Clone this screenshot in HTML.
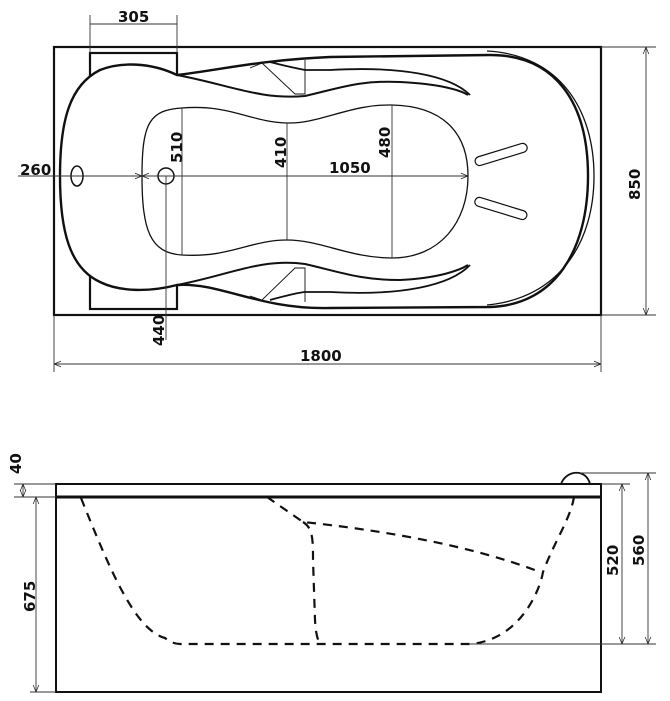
<!DOCTYPE html>
<html><head><meta charset="utf-8"><style>
html,body{margin:0;padding:0;background:#fff;}
svg{display:block;}
text{font-family:"DejaVu Sans","Liberation Sans",sans-serif;font-weight:bold;font-size:15px;fill:#111;}
</style></head><body>
<svg width="670" height="701" viewBox="0 0 670 701" xmlns="http://www.w3.org/2000/svg">
<defs>
<marker id="a" viewBox="0 0 10 10" refX="10" refY="5" markerWidth="8" markerHeight="8" orient="auto-start-reverse"><path d="M0,1 L10,5 L0,9" fill="none" stroke="#222" stroke-width="1"/></marker>
</defs>
<g fill="none" stroke="#111">
<!-- top view outer rect -->
<rect x="54" y="47" width="547" height="268" stroke-width="2.2"/>
<!-- headrest -->
<rect x="90" y="53" width="87" height="256" stroke-width="2.2"/>
<!-- tub outline -->
<path d="M177,75 C150,62 120,62 100,70 C70,85 60,120 60,176 C60,232 70,268 100,282 C120,292 150,292 177,285
 C220,282 260,310 330,308 L490,307 C555,305 588,250 588,176 C588,102 555,55 490,55 L330,57 C260,60 220,70 177,75 Z" stroke-width="2.4" fill="#fff"/>
<path d="M487,51 C560,55 594,110 594,176 C594,242 560,298 487,305" stroke-width="1.3"/>
<!-- armrest inner curves -->
<path d="M177,75 C230,85 260,100 305,96 C340,88 360,80 400,82 C440,84 460,90 468,95" stroke-width="2"/>
<path d="M270,62 C285,66 295,68 305,70 L330,70 C400,66 450,75 470,95" stroke-width="1.8"/>
<path d="M177,285 C230,275 260,258 305,264 C340,272 360,280 400,280 C440,278 460,270 468,265" stroke-width="2"/>
<path d="M270,300 C285,296 295,293 305,292 L330,292 C400,296 450,286 470,265" stroke-width="1.8"/>
<path d="M250,68 L262,63 L295,94 L305,94 L305,60 M250,296 L262,300 L295,268 L305,268 L305,302" stroke-width="0.9"/>
<!-- inner basin -->
<path d="M182,108 C230,104 250,122 287,123 C320,124 350,104 392,105 C440,106 468,130 468,176 C468,222 440,258 392,258 C350,258 320,240 287,240 C250,240 230,258 182,255 C150,253 142,230 142,176 C142,122 150,110 182,108 Z" stroke-width="1.3"/>
<!-- pads -->
<rect x="474" y="150" width="54" height="9" rx="4.5" transform="rotate(-17 501 154)" stroke-width="1.2"/>
<rect x="474" y="204" width="54" height="9" rx="4.5" transform="rotate(17 501 208)" stroke-width="1.2"/>
<!-- drain & overflow -->
<ellipse cx="77" cy="176" rx="6" ry="10" stroke-width="1.5"/>
<circle cx="166" cy="176" r="8" stroke-width="1.5"/>
</g>
<g fill="none" stroke="#333" stroke-width="0.9">
<line x1="54" y1="176" x2="142" y2="176" marker-end="url(#a)"/>
<line x1="142" y1="176" x2="468" y2="176" marker-end="url(#a)" marker-start="url(#a)"/>
<line x1="18" y1="176" x2="54" y2="176"/>
<line x1="182" y1="108" x2="182" y2="255"/>
<line x1="287" y1="123" x2="287" y2="240"/>
<line x1="392" y1="105" x2="392" y2="258"/>
<line x1="166" y1="176" x2="166" y2="340"/>
<!-- 305 -->
<line x1="90" y1="15" x2="90" y2="53"/><line x1="177" y1="15" x2="177" y2="53"/>
<line x1="90" y1="24" x2="177" y2="24"/>
<!-- 850 -->
<line x1="601" y1="47" x2="656" y2="47"/><line x1="601" y1="315" x2="656" y2="315"/>
<line x1="646" y1="47" x2="646" y2="315" marker-start="url(#a)" marker-end="url(#a)"/>
<!-- 1800 -->
<line x1="54" y1="315" x2="54" y2="372"/><line x1="601" y1="315" x2="601" y2="372"/>
<line x1="54" y1="364" x2="601" y2="364" marker-start="url(#a)" marker-end="url(#a)"/>
</g>
<text x="118" y="22">305</text>
<text x="20" y="175">260</text>
<text x="329" y="173">1050</text>
<text x="300" y="361">1800</text>
<text transform="translate(182,163) rotate(-90)">510</text>
<text transform="translate(286,168) rotate(-90)">410</text>
<text transform="translate(390,158) rotate(-90)">480</text>
<text transform="translate(164,346) rotate(-90)">440</text>
<text transform="translate(640,200) rotate(-90)">850</text>

<!-- side view -->
<g fill="none" stroke="#111">
<rect x="56" y="484" width="545" height="208" stroke-width="2"/>
<line x1="56" y1="497" x2="601" y2="497" stroke-width="3"/>
<path d="M561,484 C566,470 586,468 590,484" stroke-width="1.8"/>
<g stroke-width="2.2" stroke-dasharray="9,7">
<path d="M81,498 C110,570 135,630 165,638 C170,642 175,644 180,644 L470,644 C520,640 540,590 543,572 C555,540 570,520 574,497"/>
<path d="M267,497 L303,522 C380,530 470,545 540,572"/>
<path d="M303,522 C313,528 313,540 313,560 L315,620 C316,636 318,640 320,644"/>
</g>
</g>
<g fill="none" stroke="#333" stroke-width="0.9">
<line x1="14" y1="484" x2="56" y2="484"/><line x1="14" y1="497" x2="56" y2="497"/>
<line x1="23" y1="484" x2="23" y2="497" marker-start="url(#a)" marker-end="url(#a)"/>
<line x1="30" y1="692" x2="56" y2="692"/>
<line x1="36" y1="497" x2="36" y2="692" marker-start="url(#a)" marker-end="url(#a)"/>
<line x1="601" y1="484" x2="630" y2="484"/><line x1="580" y1="473" x2="656" y2="473"/>
<line x1="470" y1="644" x2="656" y2="644"/>
<line x1="622" y1="484" x2="622" y2="644" marker-start="url(#a)" marker-end="url(#a)"/>
<line x1="648" y1="473" x2="648" y2="644" marker-start="url(#a)" marker-end="url(#a)"/>
</g>
<text transform="translate(21,474) rotate(-90)">40</text>
<text transform="translate(35,612) rotate(-90)">675</text>
<text transform="translate(618,576) rotate(-90)">520</text>
<text transform="translate(644,566) rotate(-90)">560</text>
</svg>
</body></html>
